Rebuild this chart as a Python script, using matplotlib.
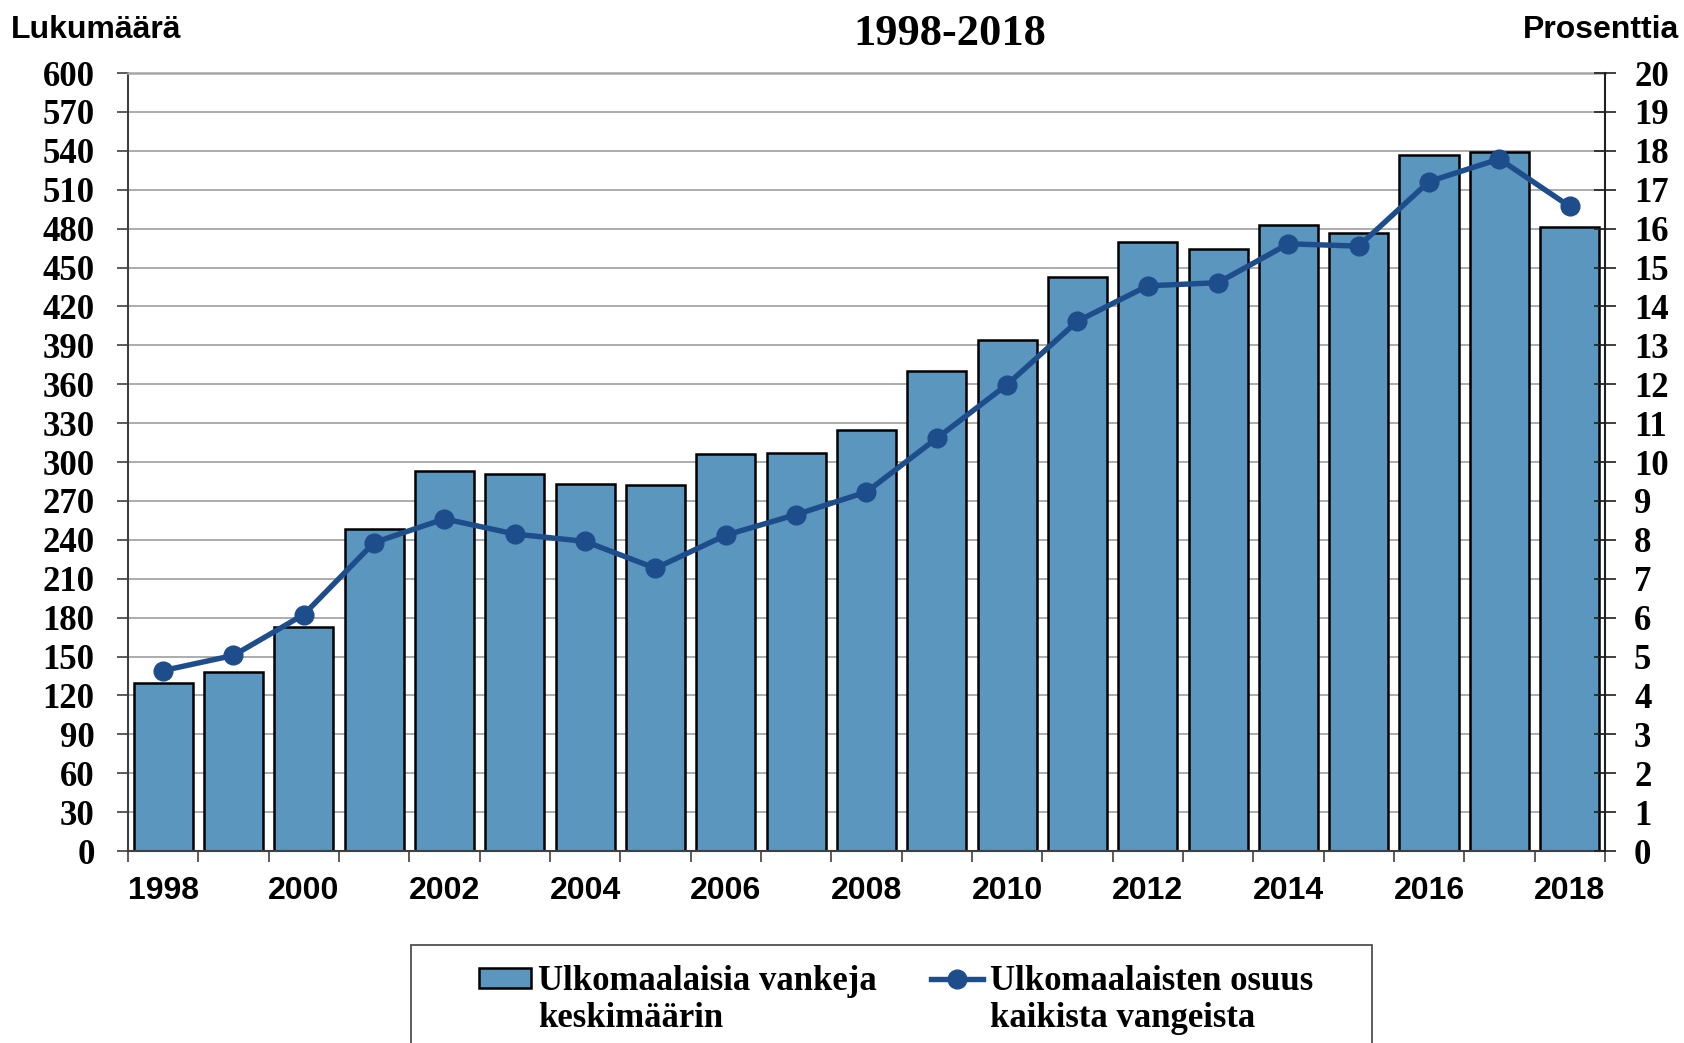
import matplotlib.pyplot as plt
from matplotlib.patches import Rectangle
from matplotlib.lines import Line2D

# data
YEARS = [1998, 1999, 2000, 2001, 2002, 2003, 2004, 2005, 2006, 2007, 2008,
         2009, 2010, 2011, 2012, 2013, 2014, 2015, 2016, 2017, 2018]
PRISONERS = [130, 138, 173, 248, 293, 291, 283, 282, 306, 307, 325,
             370, 394, 443, 470, 464, 483, 477, 537, 539, 481]
SHARE_PCT = [4.64, 5.03, 6.08, 7.93, 8.54, 8.15, 7.96, 7.27, 8.12, 8.65, 9.23,
             10.61, 11.99, 13.62, 14.53, 14.61, 15.61, 15.55, 17.21, 17.79, 16.57]
LEFT_TICKS = [0, 30, 60, 90, 120, 150, 180, 210, 240, 270, 300,
              330, 360, 390, 420, 450, 480, 510, 540, 570, 600]
RIGHT_TICKS = [0, 1, 2, 3, 4, 5, 6, 7, 8, 9, 10,
               11, 12, 13, 14, 15, 16, 17, 18, 19, 20]

BAR_LABEL = "Ulkomaalaisia vankeja"
BAR_LABEL2 = "keskimäärin"
LINE_LABEL = "Ulkomaalaisten osuus"
LINE_LABEL2 = "kaikista vangeista"

BAR_COLOR = "#5B96BF"
LINE_COLOR = "#1E4D8C"
GRID_COLOR = "#A6A6A6"
SERIF = "Liberation Serif"
SANS = "Liberation Sans"

plt.rcParams["font.family"] = SERIF
plt.rcParams["font.weight"] = "bold"

fig = plt.figure(figsize=(16.84, 10.43), dpi=100)
ax = fig.add_axes([0.076, 0.184, 0.877, 0.746])

x = list(range(len(YEARS)))
bars = ax.bar(x, PRISONERS, width=0.84, color=BAR_COLOR, edgecolor="black",
              linewidth=1.8, zorder=2)
ax.set_xlim(-0.5, len(YEARS) - 0.5)
ax.set_ylim(0, 600)
ax.set_yticks(LEFT_TICKS)
ax.set_axisbelow(True)
ax.yaxis.grid(True, color=GRID_COLOR, linewidth=1.3)

# ticks between categories, labels every other year under the bars
ax.set_xticks([i - 0.5 for i in range(len(YEARS) + 1)])
ax.set_xticklabels([])
ax.set_xticks(x[::2], minor=True)
ax.set_xticklabels(YEARS[::2], minor=True)
ax.tick_params(axis="x", which="major", direction="out", length=8,
               width=1.2, color="#404040")
ax.tick_params(axis="x", which="minor", length=0, pad=18, labelsize=23)
plt.setp(ax.get_xticklabels(minor=True), family=SANS, fontweight="bold")
ax.tick_params(axis="y", direction="out", length=8, width=1.2,
               color="#404040", pad=16, labelsize=25)

ax.spines["right"].set_visible(False)
ax.spines["top"].set_color(GRID_COLOR)
ax.spines["top"].set_linewidth(1.8)
ax.spines["left"].set_color("#404040")
ax.spines["left"].set_linewidth(1.5)
ax.spines["bottom"].set_color("#404040")
ax.spines["bottom"].set_linewidth(1.5)

ax2 = ax.twinx()
line, = ax2.plot(x, SHARE_PCT, color=LINE_COLOR, linewidth=3.9, marker="o",
                 markersize=13.5, zorder=3)
ax2.set_ylim(0, 20)
ax2.set_yticks(RIGHT_TICKS)
ax2.tick_params(axis="y", direction="inout", length=16, width=1.2,
                color="#202020", pad=13, labelsize=25)
for side in ["top", "left", "bottom"]:
    ax2.spines[side].set_visible(False)
ax2.spines["right"].set_color("#202020")
ax2.spines["right"].set_linewidth(1.5)

# header texts
fig.text(0.0065, 0.971, "Lukumäärä", family=SANS, fontweight="bold",
         fontsize=23, ha="left", va="center")
fig.text(0.997, 0.971, "Prosenttia", family=SANS, fontweight="bold",
         fontsize=23, ha="right", va="center")
fig.text(0.564, 0.967, "1998-2018", fontsize=32, fontweight="bold",
         ha="center", va="center")

# legend, box drawn separately since it runs off the bottom edge
fig.patches.append(Rectangle((0.244, -0.05), 0.571, 0.144,
                             transform=fig.transFigure, fill=False,
                             edgecolor="#505050", linewidth=1.3))
blank = Line2D([], [], alpha=0)
fig.legend([bars, blank, line, blank],
           [BAR_LABEL, BAR_LABEL2, LINE_LABEL, LINE_LABEL2],
           loc="upper center", bbox_to_anchor=(0.532, 0.0745), ncol=2,
           frameon=False, fontsize=25, handlelength=1.5, handleheight=0.55,
           handletextpad=0.2, columnspacing=1.55, labelspacing=0.1,
           borderpad=0, borderaxespad=0)

fig.savefig("out.png", dpi=100)
